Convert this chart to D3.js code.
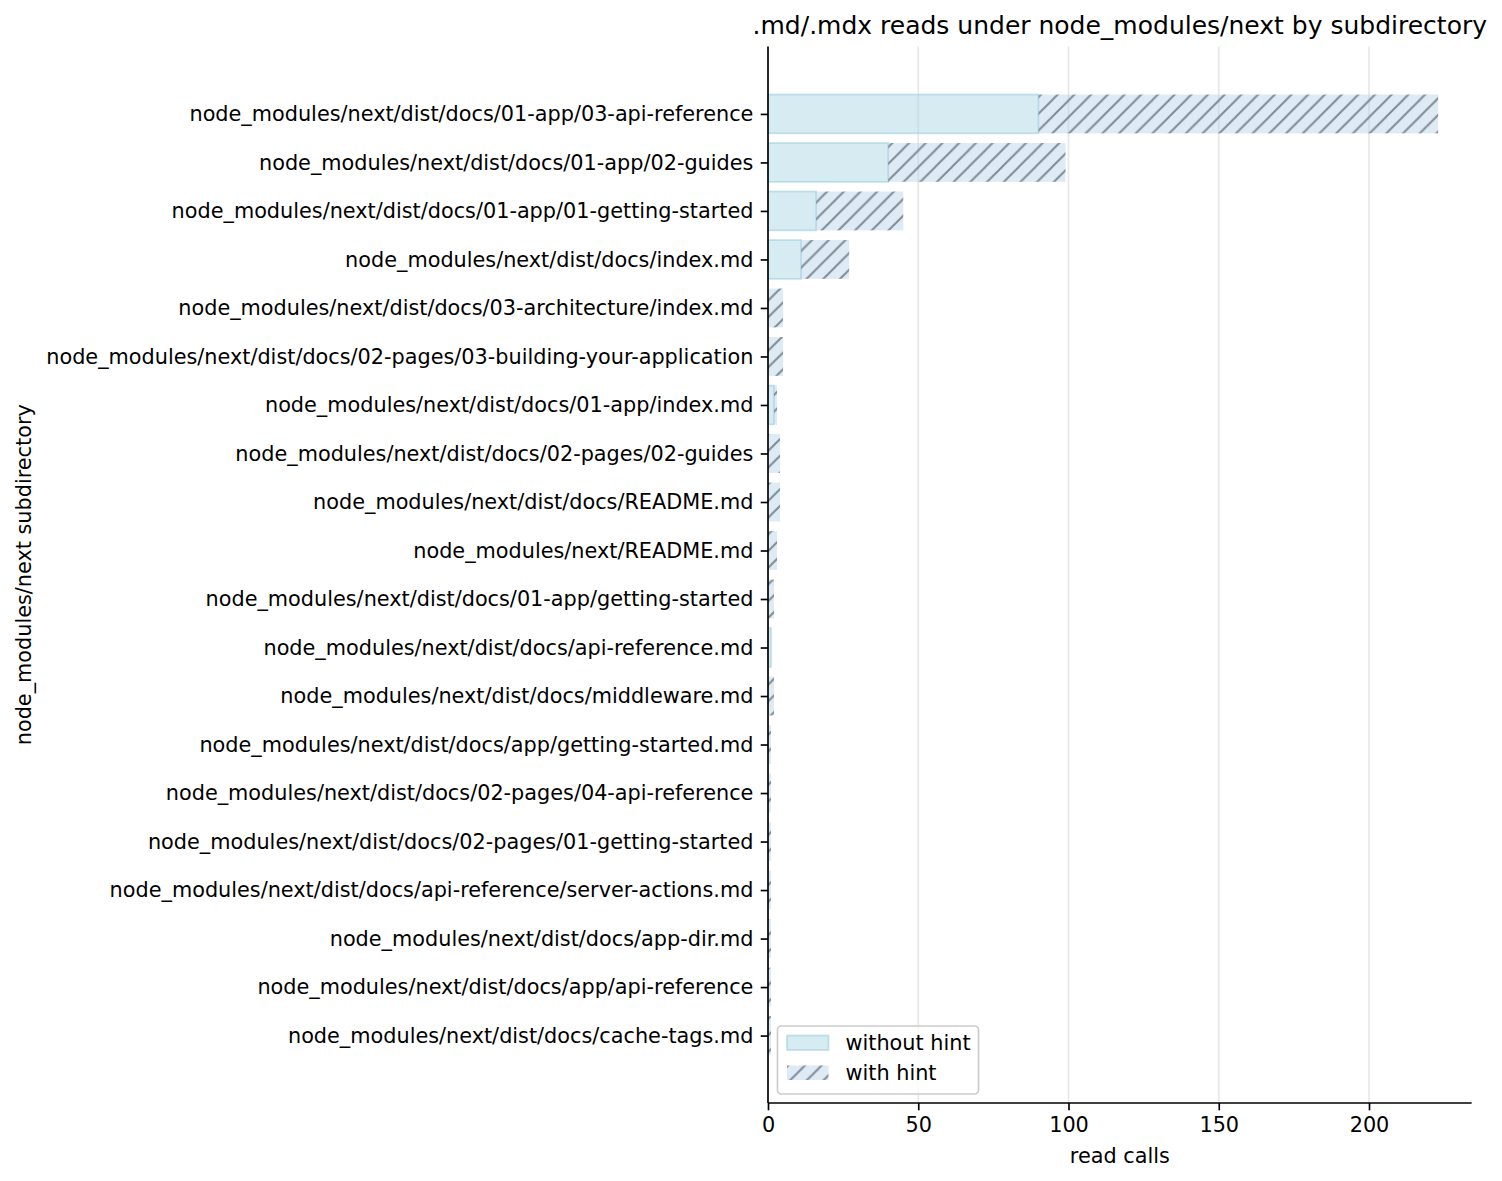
<!DOCTYPE html>
<html>
<head>
<meta charset="utf-8">
<script src="https://cdn.jsdelivr.net/npm/d3@7"></script>
<style>
  html, body { margin: 0; padding: 0; background: #fff; }
  svg { display: block; font-family: "DejaVu Sans", sans-serif; }
</style>
</head>
<body>
<svg id="chart" width="1502" height="1181"></svg>
<script>
const categories = [
  "node_modules/next/dist/docs/01-app/03-api-reference",
  "node_modules/next/dist/docs/01-app/02-guides",
  "node_modules/next/dist/docs/01-app/01-getting-started",
  "node_modules/next/dist/docs/index.md",
  "node_modules/next/dist/docs/03-architecture/index.md",
  "node_modules/next/dist/docs/02-pages/03-building-your-application",
  "node_modules/next/dist/docs/01-app/index.md",
  "node_modules/next/dist/docs/02-pages/02-guides",
  "node_modules/next/dist/docs/README.md",
  "node_modules/next/README.md",
  "node_modules/next/dist/docs/01-app/getting-started",
  "node_modules/next/dist/docs/api-reference.md",
  "node_modules/next/dist/docs/middleware.md",
  "node_modules/next/dist/docs/app/getting-started.md",
  "node_modules/next/dist/docs/02-pages/04-api-reference",
  "node_modules/next/dist/docs/02-pages/01-getting-started",
  "node_modules/next/dist/docs/api-reference/server-actions.md",
  "node_modules/next/dist/docs/app-dir.md",
  "node_modules/next/dist/docs/app/api-reference",
  "node_modules/next/dist/docs/cache-tags.md"
];
const withoutHint = [90, 40, 16, 11, 0, 0, 2, 0, 0, 0, 0, 1, 0, 0, 0, 0, 0, 0, 0, 0];
const withHint    = [133, 59, 29, 16, 5, 5, 1, 4, 4, 3, 2, 0, 2, 1, 1, 1, 1, 1, 1, 1];
const xTicks = [0, 50, 100, 150, 200];
const seriesNames = ["without hint", "with hint"];
const titleText = ".md/.mdx reads under node_modules/next by subdirectory";
const xLabel = "read calls";
const yLabel = "node_modules/next subdirectory";

(function () {
const svg = d3.select("#chart");
const pLeft = 768, pTop = 46.5, pBottom = 1103;
const totals = categories.map((c, i) => withoutHint[i] + withHint[i]);
const xMax = d3.max(totals) * 1.05;
const x = d3.scaleLinear().domain([0, xMax]).range([pLeft, pLeft + xMax * 3.005]);
const pRight = x(xMax);
const n = categories.length;
const pad = 0.4 + 0.05 * (n - 1 + 0.8);
const y = d3.scaleLinear().domain([-pad, n - 1 + pad]).range([pTop, pBottom]);
const bh = y(0.8) - y(0);

const fs = 20.8;

// hatch pattern
const defs = svg.append("defs");
const hs = 16.7;
const pat = defs.append("pattern").attr("id", "hatch")
  .attr("patternUnits", "userSpaceOnUse").attr("width", hs).attr("height", hs);
pat.append("rect").attr("width", hs).attr("height", hs).attr("fill", "rgb(173,203,227)").attr("fill-opacity", 0.4);
[[0, hs, hs, 0], [-hs / 2, hs / 2, hs / 2, -hs / 2], [hs / 2, hs * 1.5, hs * 1.5, hs / 2]].forEach(l => {
  pat.append("line").attr("x1", l[0]).attr("y1", l[1]).attr("x2", l[2]).attr("y2", l[3])
    .attr("stroke", "#7d8d97").attr("stroke-width", 2);
});

// grid
svg.append("g").selectAll("line").data(xTicks).join("line")
  .attr("x1", d => x(d)).attr("x2", d => x(d)).attr("y1", pTop).attr("y2", pBottom)
  .attr("stroke", "#b0b0b0").attr("stroke-opacity", 0.3).attr("stroke-width", 1.67);

// bars: without hint
svg.append("g").selectAll("rect").data(categories).join("rect")
  .attr("x", (d, i) => x(0))
  .attr("y", (d, i) => y(i) - bh / 2)
  .attr("width", (d, i) => x(withoutHint[i]) - x(0))
  .attr("height", bh)
  .attr("fill", "#add8e6").attr("fill-opacity", 0.5)
  .attr("stroke", (d, i) => withoutHint[i] > 0 ? "#a3cfe2" : "none").attr("stroke-opacity", 0.65).attr("stroke-width", 1.7);

// bars: with hint (stacked)
svg.append("g").selectAll("rect").data(categories).join("rect")
  .attr("x", (d, i) => x(withoutHint[i]))
  .attr("y", (d, i) => y(i) - bh / 2)
  .attr("width", (d, i) => x(withoutHint[i] + withHint[i]) - x(withoutHint[i]))
  .attr("height", bh)
  .attr("fill", "url(#hatch)");

// axes
const xAxis = d3.axisBottom(x).tickValues(xTicks).tickSize(7.3).tickPadding(7);
const gx = svg.append("g").attr("transform", `translate(0,${pBottom})`).call(xAxis);
gx.select(".domain").attr("d", `M${pLeft},0H${pRight}`).attr("stroke", "#000").attr("stroke-width", 1.67);
gx.selectAll(".tick line").attr("stroke", "#000").attr("stroke-width", 1.67);
gx.selectAll(".tick text").attr("font-size", fs).attr("font-family", "DejaVu Sans").attr("fill", "#000");

const yAxis = d3.axisLeft(y).tickValues(d3.range(n)).tickFormat(i => categories[i]).tickSize(7.3).tickPadding(7.3);
const gy = svg.append("g").attr("transform", `translate(${pLeft},0)`).call(yAxis);
gy.select(".domain").attr("d", `M0,${pTop}V${pBottom}`).attr("stroke", "#000").attr("stroke-width", 1.67);
gy.selectAll(".tick line").attr("stroke", "#000").attr("stroke-width", 1.67);
gy.selectAll(".tick text").attr("font-size", fs).attr("font-family", "DejaVu Sans").attr("fill", "#000");

// labels
svg.append("text").attr("x", (pLeft + pRight) / 2).attr("y", 1163).attr("text-anchor", "middle")
  .attr("font-size", fs).text(xLabel);
svg.append("text").attr("transform", `translate(31,${(pTop + pBottom) / 2}) rotate(-90)`).attr("text-anchor", "middle")
  .attr("font-size", fs).text(yLabel);
svg.append("text").attr("x", (pLeft + pRight) / 2).attr("y", 34).attr("text-anchor", "middle")
  .attr("font-size", 25).text(titleText);

// legend
const lg = svg.append("g");
lg.append("rect").attr("x", 777.5).attr("y", 1026).attr("width", 201).attr("height", 68).attr("rx", 4)
  .attr("fill", "#fff").attr("fill-opacity", 0.8).attr("stroke", "#cccccc").attr("stroke-width", 1.67);
const items = seriesNames.map((s, i) => ({ name: s, i }));
lg.selectAll("rect.sw").data(items).join("rect").attr("class", "sw")
  .attr("x", 787).attr("y", d => 1035.5 + d.i * 30).attr("width", 41.5).attr("height", 14.5)
  .attr("fill", d => d.i === 0 ? "#add8e6" : "url(#hatch)").attr("fill-opacity", d => d.i === 0 ? 0.5 : 1)
  .attr("stroke", d => d.i === 0 ? "#a3cfe2" : "none").attr("stroke-opacity", 0.65).attr("stroke-width", 1.7);
lg.selectAll("text").data(items).join("text")
  .attr("x", 845.5).attr("y", d => 1049.5 + d.i * 30).attr("font-size", fs).text(d => d.name);
})();
</script>
</body>
</html>
